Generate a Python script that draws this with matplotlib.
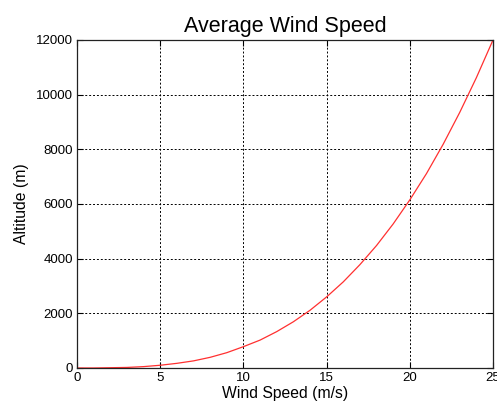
import matplotlib
matplotlib.use('Agg')
import matplotlib.pyplot as plt

# values
wind_speed = [0, 1, 2, 3, 4, 5, 6, 7, 8, 9, 10, 11, 12, 13, 14, 15,
              16, 17, 18, 19, 20, 21, 22, 23, 24, 25]
altitude = [0, 0, 10, 20, 50, 100, 170, 260, 390, 560, 780, 1020, 1330,
            1690, 2110, 2600, 3150, 3780, 4480, 5270, 6150, 7110, 8180,
            9350, 10620, 12000]
x_ticks = [0, 5, 10, 15, 20, 25]
y_ticks = [0, 2000, 4000, 6000, 8000, 10000, 12000]

plt.rcParams['font.family'] = ['Liberation Sans', 'DejaVu Sans']

fig = plt.figure(figsize=(4.97, 4.05), dpi=100)
ax = fig.add_axes([0.155, 0.0914, 0.837, 0.81])

ax.plot(wind_speed, altitude, color='#ff3030', lw=0.9)

ax.set_xlim(0, 25)
ax.set_ylim(0, 12000)
ax.set_xticks(x_ticks)
ax.set_yticks(y_ticks)
ax.tick_params(direction='in', top=True, right=True, labelsize=9.5,
               length=4, width=0.8, pad=3)
ax.grid(True, color='black', linestyle=(0, (2, 2)), lw=0.7)
for s in ax.spines.values():
    s.set_linewidth(0.9)
    s.set_color('#222222')

ax.set_title('Average Wind Speed', fontsize=15.5, pad=6)
ax.set_xlabel('Wind Speed (m/s)', fontsize=11.3, labelpad=1)
ax.set_ylabel('Altitude (m)', fontsize=11.3, labelpad=5)

fig.savefig('out.png', dpi=100)
